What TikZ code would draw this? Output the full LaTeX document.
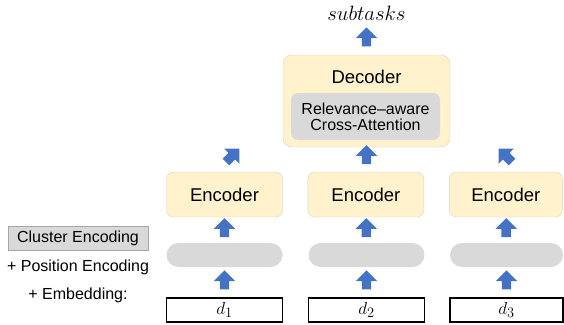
\documentclass[tikz,border=0pt]{standalone}
\usepackage{fontspec}
\setmainfont{Liberation Sans}
\usepackage{tikz}
\usetikzlibrary{shapes.arrows, positioning, calc}

\definecolor{encyellow}{HTML}{FFF2CC}
\definecolor{encline}{HTML}{D6D2C4}
\definecolor{boxgray}{HTML}{D9D9D9}
\definecolor{arrowblue}{HTML}{4472C4}

\begin{document}
\begin{tikzpicture}[
  x=1pt, y=-1pt,
  enc/.style={draw=encline, fill=encyellow, rounded corners=7pt, minimum width=116pt, minimum height=45pt, font=\fontsize{18.5}{20}\selectfont},
  emb/.style={fill=boxgray, rounded corners=12pt, minimum width=116pt, minimum height=24pt},
  tok/.style={draw, line width=1.4pt, minimum width=116pt, minimum height=24pt, inner sep=0pt, font=\fontsize{19}{20}\selectfont},
  blockarrow/.style={single arrow, fill=arrowblue, rotate=#1, inner xsep=0pt, inner ysep=4.5pt, minimum height=19pt, single arrow head extend=6pt},
  label/.style={font=\fontsize{16}{18}\selectfont, inner sep=0pt},
]
\useasboundingbox (0,0) rectangle (564,324);

% encoders
\node[enc] (enc1) at (224.5,194.5) {Encoder};
\node[enc, right=25pt of enc1] (enc2) {Encoder};
\node[enc, right=25pt of enc2, minimum width=113pt] (enc3) {Encoder};

% embedding ellipses
\node[emb] (emb1) at (224.5,255) {};
\node[emb] (emb2) at (366.5,255) {};
\node[emb, minimum width=113pt] (emb3) at (506.5,255) {};

% documents
\node[tok] (d1) at (224.5,310) {$d_1$};
\node[tok] (d2) at (366.5,310) {$d_2$};
\node[tok, minimum width=113pt] (d3) at (506.5,310) {$d_3$};

% decoder
\node[draw=encline, fill=encyellow, rounded corners=9pt, minimum width=167pt, minimum height=92pt] (dec) at (366.5,101) {};
\node[font=\fontsize{18.5}{20}\selectfont] (dectitle) at (366.5,77) {Decoder};
\node[fill=boxgray, rounded corners=7pt, minimum width=149pt, minimum height=47pt, align=center, font=\fontsize{16}{17}\selectfont] (rca) at (365.5,116.5) {Relevance--aware\\[-1pt]Cross-Attention};
\node[font=\fontsize{22}{24}\selectfont] (out) at (366.5,13) {$subtasks$};

% arrows
\foreach \i in {1,2,3} {
  \node[blockarrow=90] (up\i) at ($(d\i.north)!0.5!(emb\i.south)$) {};
  \node[blockarrow=90] (mid\i) at ($(emb\i.north)!0.5!(enc\i.south)$) {};
}
\node[blockarrow=45] (top1) at (231,157) {};
\node[blockarrow=90] (top2) at (366.5,157) {};
\node[blockarrow=135] (top3) at (507,157) {};
\node[blockarrow=90] (decout) at ($(dec.north)!0.5!(out.south)$) {};

% left labels
\node[label, draw=gray!70, fill=boxgray, minimum width=140pt, minimum height=24pt] (clus) at (78,238) {Cluster Encoding};
\node[label] (pos) at (78,267) {+ Position Encoding};
\node[label] (embd) at (78,295) {+ Embedding:};
\end{tikzpicture}
\end{document}
